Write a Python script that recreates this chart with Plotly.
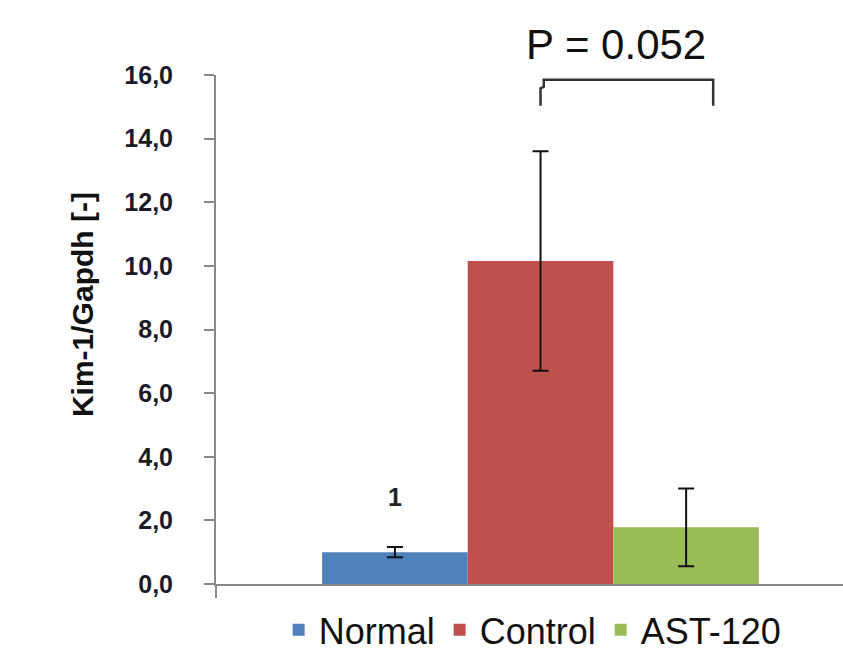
import plotly.graph_objects as go

groups = ["Normal", "Control", "AST-120"]
means = [1.0, 10.15, 1.78]
errors = [0.16, 3.45, 1.22]
colors = ["#4F81BD", "#C0504D", "#9BBB59"]
y_ticks = [0, 2, 4, 6, 8, 10, 12, 14, 16]
p_label = "P = 0.052"
normal_label = "1"
y_title = "Kim-1/Gapdh [-]"

fig = go.Figure()
for g, m, e, c in zip(groups, means, errors, colors):
    fig.add_trace(go.Bar(
        x=[0], y=[m], name=g,
        marker=dict(color=c, line=dict(width=0)),
        error_y=dict(type="data", array=[e], visible=True, color="#111111",
                     thickness=2, width=8),
    ))

bar_w = (1 - 0.327) / 3

# bracket between Control and AST-120
xl, xr = 0.0, 0.266
yt, yb = 15.85, 15.03
fig.add_shape(type="path",
              path=f"M {xr},{yb} L {xr},{yt} L {xl+0.005},{yt} L {xl+0.005},{yt-0.22} L {xl},{yt-0.27} L {xl},{yb}",
              line=dict(color="#333333", width=2.5), xref="x", yref="y")

fig.add_annotation(x=0.117, y=1.06, text=p_label, showarrow=False,
                   font=dict(family="Liberation Sans, Arial", size=42, color="#111111"),
                   xref="x", yref="paper", yanchor="middle")
fig.add_annotation(x=-bar_w, y=2.74, text=f"<b>{normal_label}</b>", showarrow=False,
                   font=dict(family="Liberation Sans, Arial", size=25, color="#222222"),
                   xref="x", yref="y", yanchor="middle")
fig.add_annotation(x=-0.2137, y=0.548, text=f"<b>{y_title}</b>", showarrow=False,
                   textangle=-90, xref="paper", yref="paper",
                   xanchor="center", yanchor="middle",
                   font=dict(family="Liberation Sans, Arial", size=30, color="#111111"))

fig.update_layout(
    width=843, height=653,
    margin=dict(l=216, r=0, t=75, b=69, autoexpand=False),
    paper_bgcolor="white", plot_bgcolor="white",
    barmode="group", bargap=0.327, bargroupgap=0,
    separators=",.",
    showlegend=True,
    legend=dict(orientation="h", x=0.505, xanchor="center", y=-0.09, yanchor="middle",
                font=dict(family="Liberation Sans, Arial", size=36, color="#111111"),
                itemwidth=30, traceorder="normal"),
    xaxis=dict(range=[-0.5, 0.466], showticklabels=False, tickvals=[-0.5],
               ticks="outside", ticklen=12, tickwidth=2, tickcolor="#888888",
               showline=True, linecolor="#888888", linewidth=2, showgrid=False,
               zeroline=False, fixedrange=True),
    yaxis=dict(range=[0, 16], tickvals=y_ticks, tickformat=".1f",
               ticks="outside", ticklen=10, tickwidth=2, tickcolor="#888888",
               ticklabelstandoff=26,
               showline=True, linecolor="#888888", linewidth=2, showgrid=False,
               zeroline=False,
               tickfont=dict(family="Liberation Sans, Arial", size=25, color="#1a1a2a",
                             weight="bold")),
)

fig.write_html("out.html")
